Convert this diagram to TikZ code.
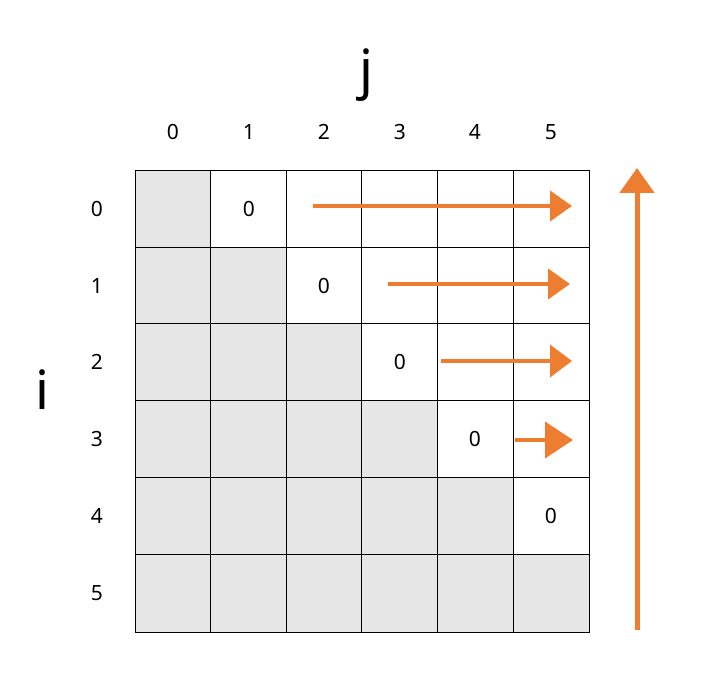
\documentclass[tikz,border=0pt]{standalone}
\usepackage{fontspec}
\setmainfont{Noto Sans}
\usetikzlibrary{arrows.meta}
\definecolor{arr}{HTML}{ED7D31}
\definecolor{shade}{HTML}{E6E6E6}
\begin{document}
\begin{tikzpicture}[x=1pt,y=-1pt,
  cellbox/.style={draw=black,line width=0.8pt},
  lbl/.style={font=\fontsize{21}{24}\selectfont,inner sep=0pt},
  big/.style={font=\fontsize{54}{60}\selectfont,inner sep=0pt},
  orarrow/.style={draw=arr,line width=4pt},
]
\useasboundingbox[fill=white] (0,0) rectangle (713,698);
\def\xs{{135,210.5,286,361.5,437,513,589}}
\def\ys{{170,247,323.5,400.5,477,554,632}}
% cells
\foreach \i in {0,...,5}{
  \foreach \j in {0,...,5}{
    \pgfmathsetmacro{\xa}{\xs[\j]}
    \pgfmathsetmacro{\xb}{\xs[\j+1]}
    \pgfmathsetmacro{\ya}{\ys[\i]}
    \pgfmathsetmacro{\yb}{\ys[\i+1]}
    \ifnum\j>\i
      \path[cellbox,fill=white] (\xa,\ya) rectangle (\xb,\yb);
    \else
      \path[cellbox,fill=shade] (\xa,\ya) rectangle (\xb,\yb);
    \fi
  }
}
% zeros
\node[lbl] (z0) at (249,209) {0};
\node[lbl] (z1) at (324,286) {0};
\node[lbl] (z2) at (400,362) {0};
\node[lbl] (z3) at (475,439) {0};
\node[lbl] (z4) at (551,516) {0};
% column labels
\foreach \j/\x in {0/173,1/249,2/324,3/400,4/475,5/551}
  \node[lbl] (c\j) at (\x,132) {\j};
% row labels
\foreach \i/\y in {0/209,1/286,2/362,3/439,4/516,5/593}
  \node[lbl] (r\i) at (97,\y) {\i};
% axis letters
\node[big] (jl) at (366,75) {j};
\node[big] (il) at (42,390) {i};
% arrows
\coordinate (a0s) at (313,206); \coordinate (a0e) at (572,206);
\coordinate (a1s) at (388,284); \coordinate (a1e) at (570,284);
\coordinate (a2s) at (441,361); \coordinate (a2e) at (572,361);
\coordinate (a3s) at (515,440); \coordinate (a3e) at (573,440);
\coordinate (vs) at (637,630); \coordinate (ve) at (637,168);
\draw[orarrow,-{Triangle[length=22pt,width=30pt]}] (a0s) -- (a0e);
\draw[orarrow,-{Triangle[length=22pt,width=30pt]}] (a1s) -- (a1e);
\draw[orarrow,-{Triangle[length=22pt,width=32pt]}] (a2s) -- (a2e);
\draw[orarrow,-{Triangle[length=28pt,width=36pt]}] (a3s) -- (a3e);
\draw[orarrow,line width=5pt,-{Triangle[length=25pt,width=34pt]}] (vs) -- (ve);
\end{tikzpicture}
\end{document}
